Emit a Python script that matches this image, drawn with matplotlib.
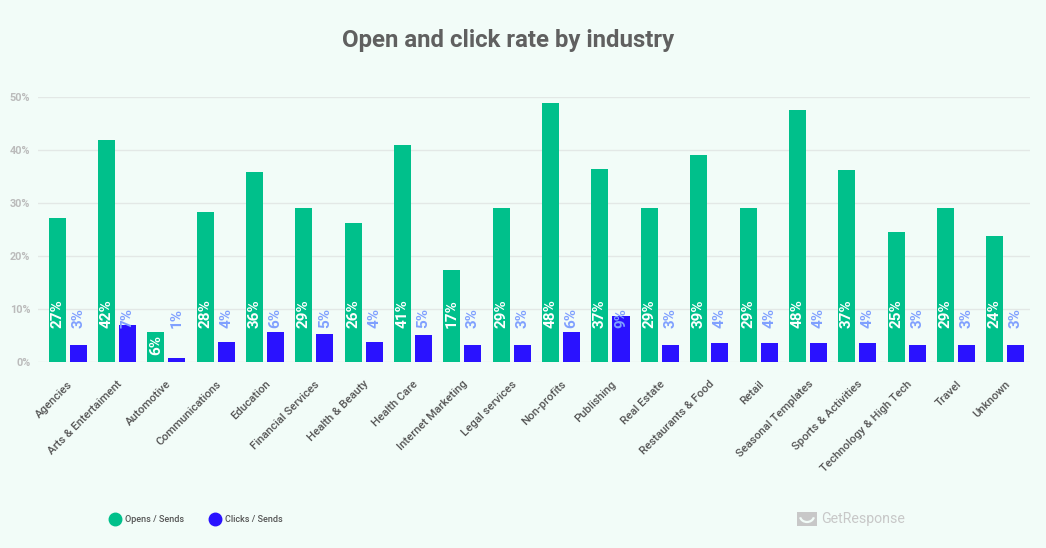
import matplotlib
matplotlib.use("Agg")
import matplotlib.pyplot as plt
import numpy as np
from matplotlib.lines import Line2D
from matplotlib.patches import Rectangle, Arc

# ---------------------------------------------------------------------------
# Data
# ---------------------------------------------------------------------------

industries = [
    "Agencies", "Arts & Entertaiment", "Automotive", "Communications",
    "Education", "Financial Services", "Health & Beauty", "Health Care",
    "Internet Marketing", "Legal services", "Non-profits", "Publishing",
    "Real Estate", "Restaurants & Food", "Retail", "Seasonal Templates",
    "Sports & Activities", "Technology & High Tech", "Travel", "Unknown",
]
opens = [27.2, 42.0, 5.8, 28.3, 36.0, 29.1, 26.2, 41.0, 17.4, 29.1,
         48.9, 36.4, 29.1, 39.2, 29.1, 47.6, 36.3, 24.6, 29.1, 23.8]
clicks = [3.3, 7.0, 0.9, 3.8, 5.8, 5.3, 3.8, 5.2, 3.3, 3.3,
          5.8, 8.7, 3.3, 3.7, 3.7, 3.7, 3.7, 3.3, 3.3, 3.3]
open_labels = [27, 42, 6, 28, 36, 29, 26, 41, 17, 29,
               48, 37, 29, 39, 29, 48, 37, 25, 29, 24]
click_labels = [3, 7, 1, 4, 6, 5, 4, 5, 3, 3,
                6, 9, 3, 4, 4, 4, 4, 3, 3, 3]
y_ticks = [0, 10, 20, 30, 40, 50]

# ---------------------------------------------------------------------------
# Style
# ---------------------------------------------------------------------------

BG = "#f2fcf8"
GREEN = "#00c08b"
BLUE = "#2a12ff"
BLUE_LABEL = "#80a0ff"
W, H = 1046, 548

plt.rcParams["font.family"] = ["Roboto", "DejaVu Sans"]

fig = plt.figure(figsize=(W / 100, H / 100), dpi=100, facecolor=BG)
ax = fig.add_axes([38 / W, 1 - 362.3 / H, (1030 - 38) / W, (362.3 - 97.3) / H])
ax.set_facecolor(BG)

x = np.arange(len(industries))
bw = 0.345
off = 0.213
ax.bar(x - off, opens, bw, color=GREEN, zorder=3)
ax.bar(x + off, clicks, bw, color=BLUE, zorder=3)

# value labels, rotated, sitting at a fixed height
for xi, v, lab in zip(x, opens, open_labels):
    ypos = 6.4 if v > 10 else 1.3
    ax.text(xi - off, ypos, f"{lab}%", rotation=90, ha="center", va="bottom",
            color="white", fontsize=11, fontweight="bold", zorder=4)
for xi, lab in zip(x, click_labels):
    ax.text(xi + off, 6.4, f"{lab}%", rotation=90, ha="center", va="bottom",
            color=BLUE_LABEL, fontsize=11, fontweight="bold", zorder=4)

ax.set_xlim(-0.6, len(industries) - 0.5)
ax.set_ylim(0, 50)
ax.set_yticks(y_ticks)
ax.set_yticklabels([f"{t}%" for t in y_ticks], color="#bbbbbb",
                   fontsize=7.8, fontweight="bold")
ax.yaxis.grid(True, color="#e3e8e6", linewidth=1, zorder=0)
ax.set_axisbelow(True)
ax.tick_params(axis="y", length=0, pad=5.5)
ax.tick_params(axis="x", length=0, pad=12)
ax.set_xticks(x)
ax.set_xticklabels(industries, rotation=45, ha="right", rotation_mode="anchor",
                   color="#555555", fontsize=8.2, fontweight="medium")
for s in ax.spines.values():
    s.set_visible(False)

fig.text(508 / W, 1 - 40 / H, "Open and click rate by industry", ha="center",
         va="center", fontsize=17.3, fontweight="bold", color="#606060")

# legend
for mx, col, lab in [(115, GREEN, "Opens / Sends"), (215, BLUE, "Clicks / Sends")]:
    fig.add_artist(Line2D([mx / W], [1 - 519 / H], marker="o", markersize=9,
                          color=col, linestyle="none", transform=fig.transFigure))
    fig.text((mx + 10) / W, 1 - 519 / H, lab, ha="left", va="center",
             fontsize=6.5, fontweight="medium", color="#555555")

# GetResponse logo
logo = "#c8c8c8"
fig.add_artist(Rectangle((797 / W, 1 - 526 / H), 20 / W, 14 / H,
                         transform=fig.transFigure, color=logo, linewidth=0))
fig.add_artist(Arc((807 / W, 1 - 516 / H), 14 / W, 12 / H, theta1=200, theta2=340,
                   transform=fig.transFigure, color=BG, linewidth=1.6))
fig.text(821 / W, 1 - 519 / H, "GetResponse", ha="left", va="center",
         fontsize=10.2, color=logo)

fig.savefig("out.png", dpi=100, facecolor=BG)
